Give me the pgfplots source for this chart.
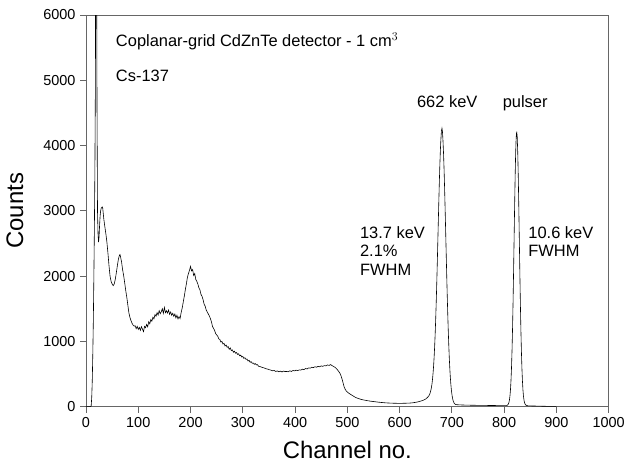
\documentclass[border=0pt]{standalone}
\usepackage{fontspec}
\setmainfont{Liberation Sans}
\usepackage{pgfplots}
\pgfplotsset{compat=1.18}
\begin{document}
\begin{tikzpicture}
\begin{axis}[
  scale only axis,
  width=522.7bp, height=391.7bp,
  xmin=0, xmax=1000, ymin=0, ymax=6000,
  xtick={0,100,...,1000}, ytick={0,1000,...,6000},
  xtick pos=left, ytick pos=left,
  tick align=outside,
  major tick length=6bp,
  axis line style={black!60, line width=0.8pt},
  every tick/.style={black!60, line width=0.8pt},
  /pgf/number format/assume math mode=true,
  /pgf/number format/set thousands separator={},
  tick label style={font=\fontsize{14.5}{17}\selectfont},
  xticklabel style={yshift=-1bp},
  yticklabel style={xshift=-1bp},
  label style={font=\fontsize{24}{28}\selectfont},
  xlabel={Channel no.},
  ylabel={Counts},
  xlabel style={at={(axis description cs:0.5,0)}, anchor=center, yshift=-43bp},
  ylabel style={at={(axis description cs:0,0.5)}, anchor=center, yshift=71bp},
]
\addplot[black, line width=0.6pt] coordinates {
(0,0)(5,0)(9,0)(10,20)(11,150)(12,400)(13,800)(14,1300)(15,1950)(16,2700)(17,3600)(18,5000)(19,9000)(20,7800)(21,4750)(22,3000)(23,2650)(24,2520)(25,2600)(26,2780)(27,2920)(28,3000)(29,3040)(30,3050)(31,3060)(32,3040)(33,2960)(34,2880)(35,2820)(36,2760)(38,2650)(40,2520)(42,2350)(44,2160)(46,2000)(48,1920)(50,1880)(52,1855)(54,1880)(56,1950)(58,2050)(60,2160)(62,2260)(64,2320)(65,2330)(66,2300)(68,2220)(70,2100)(72,2010)(74,1900)(76,1780)(78,1680)(80,1560)(82,1440)(84,1370)(86,1320)(88,1280)(90,1250)(92,1235)
(94,1240)(96,1195)(98,1230)(100,1185)(102,1215)(104,1170)(106,1225)(108,1190)(110,1150)(112,1230)(114,1210)(116,1260)(118,1225)(120,1300)(122,1270)(124,1335)(126,1310)(128,1370)(130,1345)(132,1410)(134,1385)(136,1440)(138,1405)(140,1470)(142,1425)(144,1455)(146,1500)(148,1430)(150,1520)(152,1440)(154,1470)(156,1435)(158,1480)(160,1415)(162,1450)(164,1400)(166,1430)(168,1385)(170,1420)(172,1360)(174,1400)(176,1345)(178,1380)(180,1350)(182,1440)(184,1510)(186,1600)(188,1690)(190,1790)(192,1880)(194,1980)(196,2040)(198,2090)(200,2150)(202,2080)(204,2100)(206,2010)(208,2040)(210,1950)(212,1920)(214,1880)(216,1820)(218,1790)(220,1720)(222,1690)(224,1640)(226,1570)(228,1540)(230,1480)(232,1450)(234,1420)(236,1390)(238,1350)(240,1300)(242,1230)(244,1200)(246,1170)(248,1120)(250,1100)(252,1080)(254,1040)(256,1030)(258,990)(260,1000)(262,960)(264,970)(266,930)(268,945)(270,910)(272,920)(274,880)(276,900)(278,860)(280,870)(282,835)(284,850)(286,820)(288,830)(290,800)(292,810)(294,780)(296,790)(298,760)(300,770)(302,740)(304,750)(306,725)(308,730)(310,700)(312,710)(314,680)(316,690)(318,665)(320,670)(322,650)(324,660)(326,640)(328,645)(330,620)
(333,615)(336,605)(339,598)(342,590)(345,580)(348,575)(351,566)(354,560)(357,550)(360,555)(363,540)(366,548)(369,535)(372,545)(375,532)(378,546)(381,538)(384,540)(387,535)(390,550)(393,540)(396,555)(399,548)(402,560)(405,552)(408,565)(411,560)(414,575)(417,568)(420,585)(423,578)(426,595)(429,590)(432,605)(435,598)(438,612)(441,605)(444,618)(447,612)(450,625)(453,618)(456,630)(459,625)(462,640)(465,632)(468,645)(471,628)(474,615)(477,600)(480,575)(483,545)(486,510)(488,470)(490,420)(492,360)(494,300)(496,265)(498,240)(500,225)(503,205)(506,190)(510,170)(515,145)(520,128)(525,115)(530,105)(535,97)(540,90)(545,84)(550,79)(555,74)(560,69)(565,65)(570,61)(575,58)(580,56)(585,54)(590,53)(595,52)(600,52)(605,52)(610,53)(615,54)(620,56)(625,60)(630,66)(635,74)(640,85)(645,98)(650,118)(653,140)(656,166)(658,202)(659,227)(660,261)(661,301)(662,356)(663,425)(664,515)(665,623)(666,760)(667,920)(668,1112)(669,1338)(670,1594)(671,1875)(672,2181)(673,2503)(674,2828)(675,3147)(676,3446)(677,3713)(678,3935)(679,4100)(680,4225)(681,4265)(682,4210)(683,4067)(684,3885)(685,3646)(686,3363)(687,3047)(688,2718)(689,2380)(690,2046)(691,1732)(692,1443)(693,1181)(694,950)(695,752)(696,588)(697,452)(698,344)(699,257)(700,191)(701,140)(702,104)(703,77)(704,59)(705,46)(707,35)(710,30)(715,28)(720,26)(730,24)(740,22)(750,21)(760,20)(770,19)(780,18)(790,17)(800,16)(805,16)
(808,40)(809,62)(810,98)(811,158)(812,251)(813,389)(814,583)(815,846)(816,1182)(817,1591)(818,2061)(819,2563)(820,3065)(821,3523)(822,3892)(823,4132)(824,4215)(825,4132)(826,3892)(827,3523)(828,3065)(829,2563)(830,2061)(831,1591)(832,1182)(833,846)(834,583)(835,389)(836,251)(837,158)(838,98)(839,62)(840,40)(842,22)(845,14)(850,12)(860,10)(870,8)(880,6)(890,5)(900,4)
};
\node[anchor=base west, inner sep=0, font=\fontsize{16.5}{19}\selectfont] at (axis cs:57,5515) {Coplanar-grid CdZnTe detector - 1 cm$^{3}$};
\node[anchor=base west, inner sep=0, font=\fontsize{16.5}{19}\selectfont] at (axis cs:57,4979) {Cs-137};
\node[anchor=base west, inner sep=0, font=\fontsize{16.5}{19}\selectfont] at (axis cs:633,4586) {662 keV};
\node[anchor=base west, inner sep=0, font=\fontsize{16.5}{19}\selectfont] at (axis cs:797,4586) {pulser};
\node[anchor=base west, inner sep=0, font=\fontsize{16.5}{19}\selectfont] at (axis cs:524,2580) {13.7 keV};
\node[anchor=base west, inner sep=0, font=\fontsize{16.5}{19}\selectfont] at (axis cs:524,2298) {2.1\%};
\node[anchor=base west, inner sep=0, font=\fontsize{16.5}{19}\selectfont] at (axis cs:524,2017) {FWHM};
\node[anchor=base west, inner sep=0, font=\fontsize{16.5}{19}\selectfont] at (axis cs:846,2580) {10.6 keV};
\node[anchor=base west, inner sep=0, font=\fontsize{16.5}{19}\selectfont] at (axis cs:846,2298) {FWHM};
\end{axis}
\pgfresetboundingbox
\path[use as bounding box] (-86bp,-56.3bp) rectangle (541bp,406.7bp);
\end{tikzpicture}
\end{document}
